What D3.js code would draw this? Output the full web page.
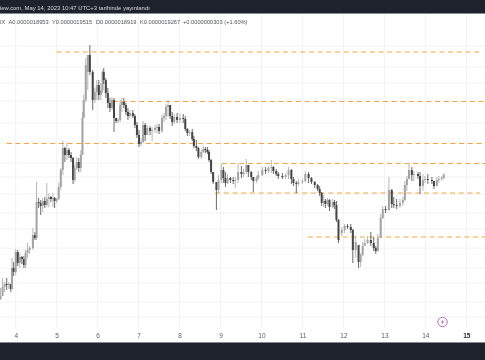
<!DOCTYPE html>
<html>
<head>
<meta charset="utf-8">
<script src="https://cdn.jsdelivr.net/npm/d3@7"></script>
<style>
  html, body { margin: 0; padding: 0; background: #fff; overflow: hidden; }
  svg { display: block; font-family: "Liberation Sans", Arial, sans-serif; filter: blur(0.35px); }
</style>
</head>
<body>
<svg id="chart" width="485" height="360"></svg>
<script>
// Candles. Time in May days, prices in units of 1e-8
var times = [
  3.63, 3.68, 3.73, 3.78, 3.83, 3.88, 3.91, 3.95, 4.00, 4.05,
  4.10, 4.15, 4.20, 4.24, 4.29, 4.34, 4.42, 4.47, 4.51, 4.56,
  4.61, 4.66, 4.71, 4.76, 4.81, 4.86, 4.91, 4.95, 5.00, 5.05,
  5.10, 5.15, 5.20, 5.25, 5.30, 5.35, 5.40, 5.44, 5.49, 5.54,
  5.59, 5.63, 5.66, 5.71, 5.76, 5.81, 5.88, 5.93, 5.98, 6.03,
  6.08, 6.12, 6.15, 6.20, 6.25, 6.30, 6.35, 6.40, 6.45, 6.50,
  6.55, 6.59, 6.64, 6.69, 6.74, 6.79, 6.86, 6.91, 6.96, 7.01,
  7.06, 7.11, 7.16, 7.21, 7.28, 7.33, 7.40, 7.45, 7.50, 7.57,
  7.62, 7.67, 7.72, 7.77, 7.82, 7.87, 7.94, 8.01, 8.09, 8.14,
  8.19, 8.24, 8.31, 8.35, 8.41, 8.46, 8.53, 8.58, 8.63, 8.68,
  8.72, 8.77, 8.82, 8.90, 8.95, 9.02, 9.07, 9.12, 9.17, 9.24,
  9.31, 9.36, 9.43, 9.51, 9.56, 9.63, 9.68, 9.75, 9.80, 9.88,
  9.92, 10.02, 10.10, 10.17, 10.24, 10.29, 10.36, 10.41, 10.51, 10.59,
  10.66, 10.73, 10.78, 10.85, 10.90, 11.00, 11.07, 11.15, 11.22, 11.30,
  11.37, 11.42, 11.47, 11.52, 11.56, 11.61, 11.66, 11.74, 11.78, 11.83,
  11.88, 11.96, 12.03, 12.10, 12.18, 12.23, 12.30, 12.37, 12.42, 12.47,
  12.52, 12.59, 12.67, 12.74, 12.79, 12.84, 12.91, 12.96, 13.03, 13.11,
  13.18, 13.23, 13.30, 13.38, 13.45, 13.50, 13.55, 13.60, 13.67, 13.72,
  13.82, 13.87, 13.94, 13.99, 14.06, 14.16, 14.21, 14.28, 14.33, 14.40,
  14.45
];
var opens = [
  130.5, 132, 136.5, 138, 137.5, 138, 135.5, 146, 144, 154,
  148.5, 151.5, 150.5, 147.5, 153.5, 155, 156, 162.5, 161, 179,
  178.5, 177, 179.5, 177.5, 180.5, 181.5, 180.5, 181, 179.5, 180.5,
  186.5, 195, 206, 202.5, 205, 202.5, 201, 190, 196, 199,
  196, 202.5, 221, 230, 244, 252.5, 244, 230, 234, 237.5,
  232.5, 235, 244, 240, 233.5, 228.5, 226, 230, 221, 219.5,
  220, 227.5, 229, 227.5, 224, 222, 223.5, 222, 217.5, 212.5,
  208, 209, 217.5, 212.5, 216, 214.5, 215, 216, 216.5, 214.5,
  221, 222, 226.5, 227.5, 222, 219, 221.5, 220, 221, 220.5,
  215.5, 213.5, 214, 210.5, 207, 206, 201.5, 204, 205.5, 205,
  204, 200, 194, 189, 185, 190, 195, 191, 188.5, 191,
  190, 189.5, 190, 194, 193, 194, 197.5, 194, 191.5, 189.5,
  191, 192.5, 195, 194.5, 196, 196.5, 194.5, 193, 192, 191.5,
  192.5, 195, 190.5, 188.5, 188, 189, 189.5, 193, 191, 189,
  187.5, 185.5, 183.5, 178.5, 179.5, 178, 180, 176.5, 179, 177.5,
  170, 163.5, 165, 167, 166.5, 165, 155, 157.5, 149, 152.5,
  157, 158.5, 160, 158.5, 156, 154.5, 161, 171, 175.5, 175,
  185, 178, 177.5, 177, 178.5, 180, 187.5, 190.5, 195, 192.5,
  193, 192, 187, 190, 190.5, 190, 189.5, 187, 190, 190.5,
  191
];
var highs = [
  136, 141, 139, 141, 139, 138, 151, 149, 155.5, 155,
  153.5, 152, 152, 155, 158.5, 157, 166, 164, 189, 181,
  180, 181, 181.5, 188.5, 183.5, 182, 183.5, 181.5, 181, 188.5,
  196, 209.5, 206.5, 208.5, 206, 204, 201.5, 197.5, 201.5, 201,
  205, 224, 232.5, 251, 252.5, 257.5, 245, 236, 240, 240,
  238.5, 245, 246, 241, 236, 231, 231.5, 231, 221, 221,
  230, 231, 231, 228.5, 226, 225, 225, 223, 219, 215,
  211, 219.5, 218.5, 217.5, 217, 216.5, 217.5, 218, 218, 222.5,
  223.5, 228, 230, 227.5, 224, 223, 223.5, 223, 223, 222,
  216, 215, 215.5, 212, 210, 206.5, 205, 207, 206.5, 206.5,
  205, 200.5, 194, 189, 192.5, 198, 196.5, 194, 193, 191.5,
  191.5, 191.5, 198, 197, 195.5, 200.5, 197.5, 194.5, 191.5, 192,
  194.5, 196.5, 196.5, 197, 200, 197, 195.5, 194, 193.5, 193.5,
  196.5, 195.5, 191.5, 189.5, 190.5, 190.5, 194.5, 194, 191.5, 189.5,
  188, 187, 184, 182.5, 180.5, 181, 180.5, 180.5, 180, 179.5,
  170.5, 166.5, 168, 168, 168, 165.5, 162, 157.5, 153.5, 159,
  160.5, 162, 164, 161.5, 157, 163, 173, 177, 177, 191.5,
  185.5, 181.5, 180.5, 180.5, 181.5, 189.5, 192, 198.5, 196.5, 194.5,
  194, 194, 193, 192, 193, 191.5, 189.5, 191.5, 192, 192,
  193.5
];
var lows = [
  130, 132, 134, 135, 135.5, 134, 135, 142, 142.5, 147,
  146, 148, 146, 146, 151, 153, 155, 160, 160, 176,
  172.5, 174, 176, 176.5, 176.5, 179, 176.5, 176, 178.5, 180,
  185, 192.5, 199, 200, 201, 199, 188, 189, 195, 194,
  194, 202.5, 221, 229, 235, 242.5, 225, 228.5, 230, 230,
  230, 233.5, 238, 231, 226, 224, 225, 214, 218.5, 218.5,
  219, 224, 226, 222.5, 220, 221, 221, 216, 211, 206.5,
  207, 208.5, 209.5, 212.5, 212.5, 209.5, 213.5, 213.5, 213, 213.5,
  219, 220, 221.5, 220.5, 217, 218, 218.5, 218.5, 218.5, 214.5,
  212, 212, 209.5, 206, 204.5, 200.5, 200.5, 203.5, 203.5, 203,
  199, 193, 188, 175, 183.5, 188.5, 188.5, 186.5, 188, 188.5,
  188, 186, 188.5, 191, 191.5, 193, 191.5, 190, 184, 188.5,
  190, 192, 193, 193.5, 193.5, 193, 192, 190.5, 190.5, 190.5,
  190.5, 188, 187, 183.5, 187, 188, 189, 188.5, 188, 186,
  184.5, 182, 177, 176.5, 176, 177, 174.5, 176, 175.5, 169,
  158.5, 162, 163.5, 165.5, 163.5, 148.5, 151, 146, 146.5, 152,
  157, 158, 157, 154.5, 153, 154, 161, 170.5, 173.5, 174.5,
  176, 176, 175.5, 176, 177, 179.5, 184.5, 190.5, 189.5, 189.5,
  190.5, 183, 184.5, 188.5, 188, 188, 185.5, 187, 188.5, 189.5,
  190.5
];
var closes = [
  132, 136.5, 138, 137.5, 138, 135.5, 146, 144, 154, 148.5,
  151.5, 150.5, 147.5, 153.5, 155, 156, 162.5, 161, 179, 178.5,
  177, 179.5, 177.5, 180.5, 181.5, 180.5, 181, 179.5, 180.5, 186.5,
  195, 206, 202.5, 205, 202.5, 201, 190, 196, 199, 196,
  202.5, 221, 230, 247.5, 252.5, 244, 230, 234, 237.5, 232.5,
  235, 244, 240, 233.5, 228.5, 226, 230, 221, 219.5, 220,
  227.5, 229, 227.5, 224, 222, 223.5, 222, 217.5, 212.5, 208,
  209, 217.5, 212.5, 216, 214.5, 215, 216, 216.5, 214.5, 221,
  222, 226.5, 227.5, 222, 219, 221.5, 220, 221, 220.5, 215.5,
  213.5, 214, 210.5, 207, 206, 201.5, 204, 205.5, 205, 204,
  200, 194, 189, 185, 190, 195, 191, 188.5, 191, 190,
  189.5, 190, 194, 193, 194, 197.5, 194, 191.5, 189.5, 191,
  192.5, 195, 194.5, 196, 196.5, 194.5, 193, 192, 191.5, 192.5,
  195, 190.5, 188.5, 188, 189, 189.5, 193, 191, 189, 187.5,
  185.5, 183.5, 178.5, 179.5, 178, 180, 176.5, 179, 177.5, 170,
  160, 165, 167, 166.5, 165, 155, 159, 149, 152.5, 157,
  158.5, 160, 158.5, 156, 154.5, 161, 171, 175.5, 175, 185,
  178, 177.5, 177, 178.5, 180, 187.5, 190.5, 195, 192.5, 193,
  192, 187, 190, 190.5, 190, 189.5, 187, 190, 190.5, 191,
  192.67
];

// Day labels and price grid
var dayTicks = [4, 5, 6, 7, 8, 9, 10, 11, 12, 13, 14, 15];
var priceGrid = [257, 246.5, 238.5, 229.5, 218.5, 208.5, 198.5, 191.5, 183, 173.5, 165.5, 156, 146, 138.5, 129, 121.5];

// Horizontal levels drawn by hand on the chart: price and the day they start
var levelPrices = [254, 229.25, 208.25, 198.25, 183.5, 161.5];
var levelStarts = [5.00, 6.38, 3.78, 9.03, 8.87, 11.13];
var levelEnds = [15.34, 15.5, 15.5, 15.5, 15.34, 15.5];

var headerText = "iew.com, May 14, 2023 10:47 UTC+3 tarihinde yayınlandı";
var legendLabels = ["IX", "A0.0000018953", "Y0.0000019515", "D0.0000018919", "K0.0000019267", "+0.0000000303 (+1.60%)"];
var legendSpots = [0, 8.5, 52, 96, 140, 183];

var svg = d3.select("#chart");
var upColor = "#a3a3a3", downColor = "#454545", levelColor = "#f7a63f", gridColor = "#f1f2f4";

// Scales are fitted so that day 4 falls at x=16 and 15 at x=466
var x = d3.scaleLinear().domain([4, 15]).range([15.7, 466.3]);
var y = d3.scaleLinear().domain([100, 280]).range([360, 0]);

// Grid
svg.append("g").selectAll("line")
    .data(dayTicks)
    .enter().append("line")
    .attr("x1", function(d) { return x(d); })
    .attr("x2", function(d) { return x(d); })
    .attr("y1", 14).attr("y2", 328)
    .attr("stroke", gridColor);

svg.append("g").selectAll("line")
    .data(priceGrid)
    .enter().append("line")
    .attr("x1", 0).attr("x2", 485)
    .attr("y1", function(d) { return y(d); })
    .attr("y2", function(d) { return y(d); })
    .attr("stroke", gridColor);

// Levels
svg.append("g").selectAll("line")
    .data(levelPrices)
    .enter().append("line")
    .attr("x1", function(d, i) { return x(levelStarts[i]); })
    .attr("x2", function(d, i) { return x(levelEnds[i]); })
    .attr("y1", function(d) { return y(d); })
    .attr("y2", function(d) { return y(d); })
    .attr("stroke", levelColor)
    .attr("stroke-width", 1)
    .attr("stroke-dasharray", "5 3.7");

// Candles
var candles = svg.append("g").selectAll("g")
    .data(times)
    .enter().append("g")
    .attr("transform", function(d) { return "translate(" + x(d) + ",0)"; });

function candleColor(i) { return closes[i] >= opens[i] ? upColor : downColor; }

candles.append("line")
    .attr("y1", function(d, i) { return y(highs[i]); })
    .attr("y2", function(d, i) { return y(lows[i]); })
    .attr("stroke", function(d, i) { return candleColor(i); })
    .attr("stroke-width", 0.8);

candles.append("rect")
    .attr("x", -1)
    .attr("width", 2)
    .attr("y", function(d, i) { return y(Math.max(opens[i], closes[i])); })
    .attr("height", function(d, i) { return Math.max(1, Math.abs(y(opens[i]) - y(closes[i]))); })
    .attr("fill", function(d, i) { return candleColor(i); });

// Time axis labels
var xAxis = svg.append("g")
    .attr("transform", "translate(0,330)")
    .call(d3.axisBottom(x).tickValues(dayTicks).tickSize(0).tickFormat(d3.format("d")));
xAxis.select(".domain").remove();
xAxis.selectAll("text")
    .attr("fill", "#5d606b")
    .style("font-size", "6.5px")
    .style("font-family", "'Liberation Sans', Arial, sans-serif");
xAxis.selectAll("text").filter(function(d) { return d === 15; })
    .attr("fill", "#1e222d")
    .style("font-weight", "bold");

// Legend row
svg.append("g").selectAll("text")
    .data(legendLabels)
    .enter().append("text")
    .attr("x", function(d, i) { return legendSpots[i]; })
    .attr("y", 23.5)
    .attr("fill", "#50535e")
    .style("font-size", "5.7px")
    .text(function(d) { return d; });

// Top and bottom bars
svg.append("rect").attr("width", 485).attr("height", 13).attr("fill", "#1e222d");
svg.append("rect").attr("y", 13).attr("width", 485).attr("height", 1).attr("fill", "#868993");
svg.append("text")
    .attr("x", 0).attr("y", 10)
    .attr("fill", "#d8d9dc")
    .style("font-size", "5.9px")
    .text(headerText);
svg.append("rect").attr("y", 343).attr("width", 485).attr("height", 17).attr("fill", "#1e222d");
svg.append("rect").attr("y", 342).attr("width", 485).attr("height", 1).attr("fill", "#868993");

// Purple marker on the time axis
var marker = svg.append("g").attr("transform", "translate(" + x(14.42) + ",322)");
marker.append("circle").attr("r", 4.7).attr("fill", "#fff").attr("stroke", "#ba68c8").attr("stroke-width", 1);
marker.append("path").attr("d", "M0.8,-2.8 L-1.4,0.4 L0,0.4 L-0.8,2.8 L1.4,-0.4 L0,-0.4 Z").attr("fill", "#ab47bc");
</script>
</body>
</html>
